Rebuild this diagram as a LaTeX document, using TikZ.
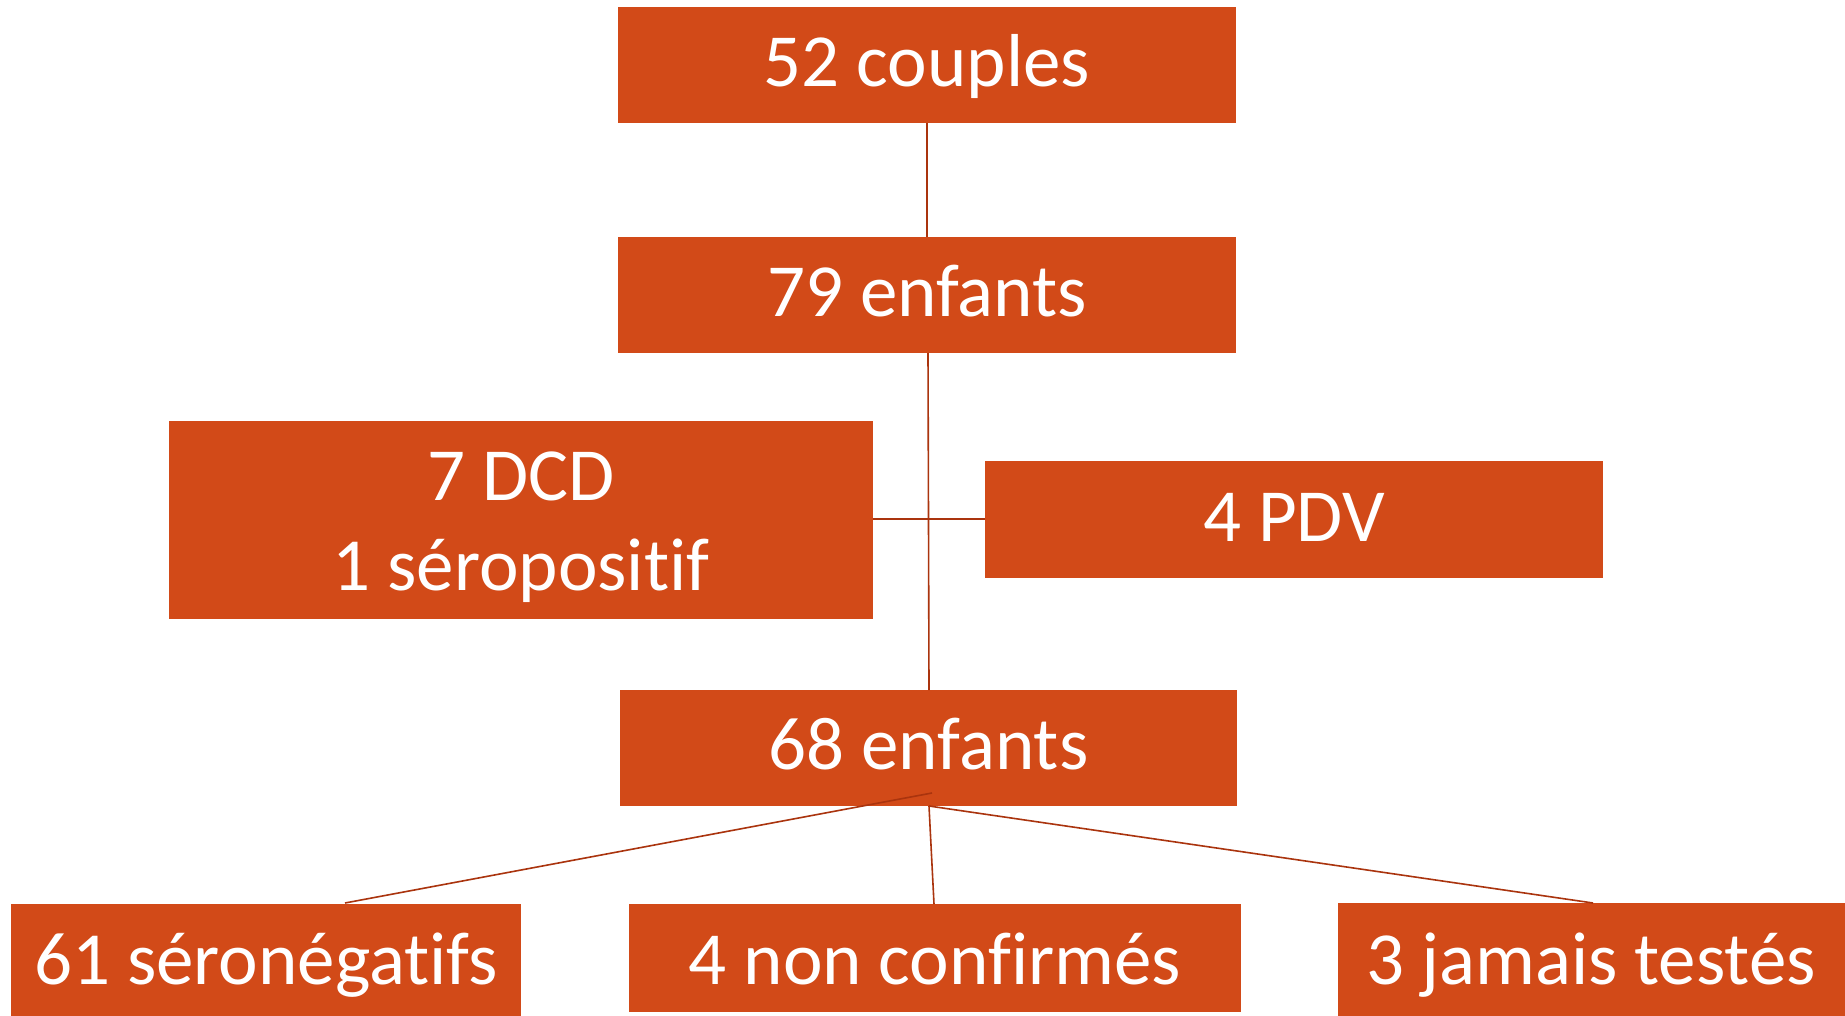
\documentclass[tikz,border=0pt]{standalone}
\usepackage{fontspec}
\setmainfont[Ligatures={NoCommon,NoDiscretionary,NoRequired,NoContextual}]{Carlito}
\definecolor{boxfill}{RGB}{210,74,24}
\definecolor{linkcol}{RGB}{170,52,14}
\begin{document}
\begin{tikzpicture}[x=1pt,y=-1pt,
  orgbox/.style={text=white,font=\fontsize{75}{90}\selectfont,align=center,inner sep=0pt,anchor=base},
  link/.style={draw=linkcol,line width=1.6pt}]
\useasboundingbox (0,0) rectangle (1845,1016);
\fill[white] (0,0) rectangle (1845,1016);
% boxes
\fill[boxfill] (618,7) rectangle (1236,123);
\node[orgbox] (b1) at (927,87) {52 couples};
\fill[boxfill] (618,237) rectangle (1236,353);
\node[orgbox] (b2) at (927,317) {79 enfants};
\fill[boxfill] (169,421) rectangle (873,619);
\node[orgbox] (b3) at (521,590) {7 DCD\\1 séropositif};
\fill[boxfill] (985,461) rectangle (1603,578);
\node[orgbox] (b4) at (1294,541) {4 PDV};
\fill[boxfill] (620,690) rectangle (1237,806);
\node[orgbox] (b5) at (928.5,769) {68 enfants};
\fill[boxfill] (11,904) rectangle (521,1030);
\node[orgbox] (b6) at (266,984) {61 séronégatifs};
\fill[boxfill] (629,904) rectangle (1241,1012);
\node[orgbox] (b7) at (935,984) {4 non confirmés};
\fill[boxfill] (1338,903) rectangle (1850,1030);
\node[orgbox] (b8) at (1591,984) {3 jamais testés};
% connector coordinates
\coordinate (b1s) at (927,123);
\coordinate (b2n) at (927,237);
\coordinate (b2s) at (928,353);
\coordinate (b5n) at (929,690);
\coordinate (b3e) at (873,519);
\coordinate (b4w) at (985,519);
\coordinate (b5a) at (932,793);
\coordinate (b5s) at (929,806);
\coordinate (b6n) at (345,903);
\coordinate (b7n) at (934,904);
\coordinate (b8n) at (1593,903);
\draw[link] (b1s) -- (b2n);
\draw[link] (b2s) -- (b5n);
\draw[link] (b3e) -- (b4w);
\draw[link] (b5a) -- (b6n);
\draw[link] (b5s) -- (b7n);
\draw[link] (b5s) -- (b8n);
\end{tikzpicture}
\end{document}
